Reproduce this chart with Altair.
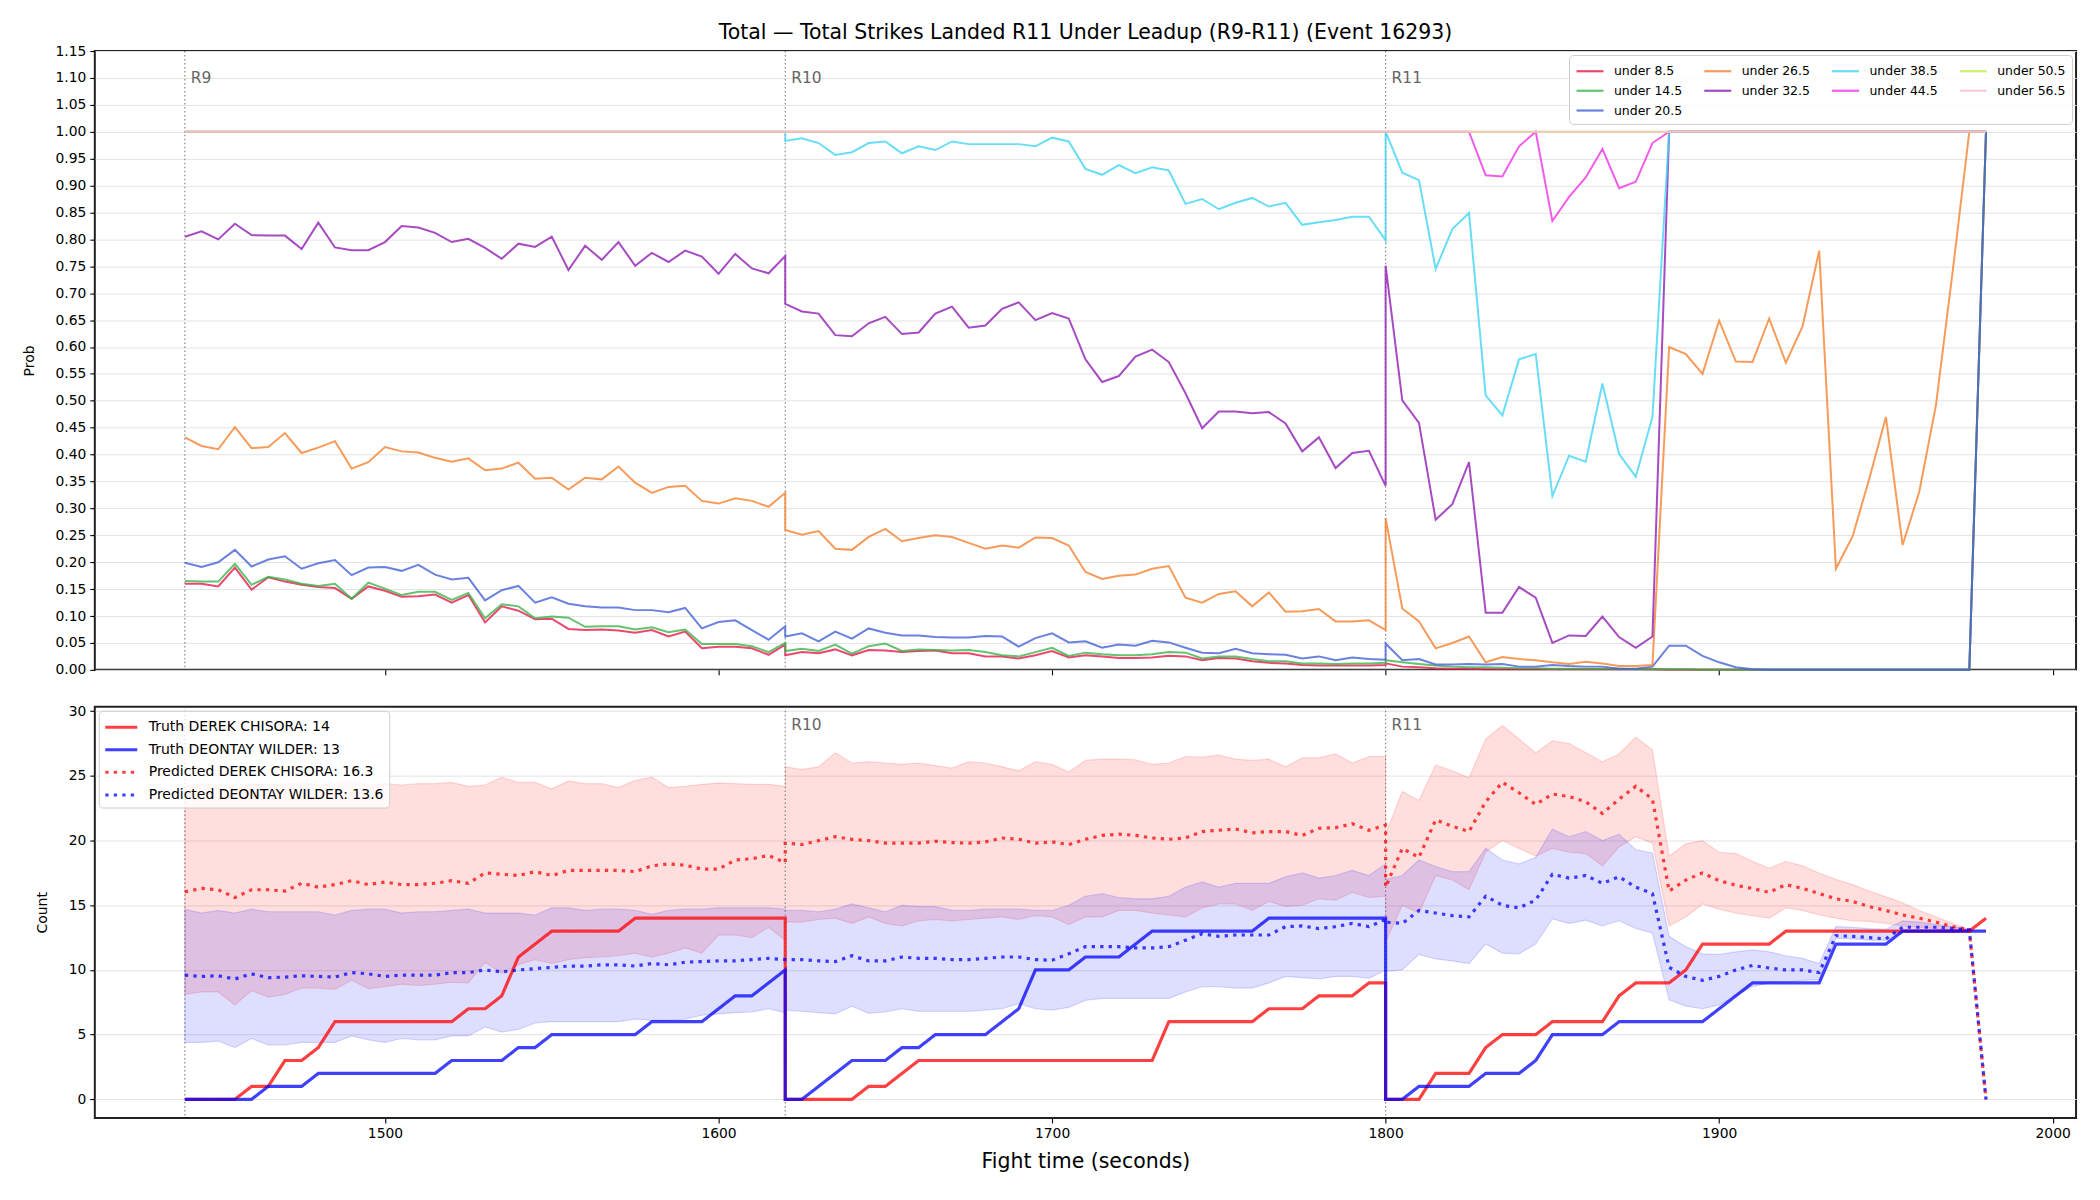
import altair as alt
import pandas as pd

# ---------------------------------------------------------------- time grid
ROUND_STARTS = [1440, 1620, 1800]
ROUND_NAMES = ["R9", "R10", "R11"]
STEP = 5
PER_ROUND = 37
TIMES = [s + STEP * i for s in ROUND_STARTS for i in range(PER_ROUND)]

# ---------------------------------------------------------------- top panel: P(total strikes < line)
THRESHOLDS = ["under 8.5", "under 14.5", "under 20.5", "under 26.5", "under 32.5",
              "under 38.5", "under 44.5", "under 50.5", "under 56.5"]
LINE_COLORS = ["#e6194B", "#3cb44b", "#4363d8", "#f58231", "#911eb4",
               "#42d4f4", "#f032e6", "#bfef45", "#fabed4"]

UNDER_8_5 = [
    0.160, 0.160, 0.155, 0.190, 0.149, 0.172, 0.164, 0.158, 0.154, 0.152,
    0.132, 0.155, 0.147, 0.136, 0.137, 0.140, 0.125, 0.139, 0.088, 0.118,
    0.110, 0.094, 0.095, 0.076, 0.074, 0.075, 0.073, 0.069, 0.074, 0.062,
    0.071, 0.040, 0.043, 0.043, 0.040, 0.028, 0.047,
    0.027, 0.033, 0.031, 0.038, 0.027, 0.037, 0.036, 0.033, 0.035, 0.036,
    0.031, 0.031, 0.025, 0.025, 0.021, 0.027, 0.035, 0.023, 0.027, 0.025,
    0.022, 0.022, 0.023, 0.026, 0.025, 0.018, 0.022, 0.021, 0.016, 0.013,
    0.012, 0.009, 0.008, 0.008, 0.008, 0.008, 0.009,
    0.012, 0.006, 0.005, 0.003, 0.002, 0.002, 0.001, 0.001, 0.001, 0.001,
    0.001, 0.001, 0.001, 0.001, 0.001, 0.001, 0.001, 0.0, 0.0, 0.0,
    0.0, 0.0, 0.0, 0.0, 0.0, 0.0, 0.0, 0.0, 0.0, 0.0,
    0.0, 0.0, 0.0, 0.0, 0.0, 0.0, 1.0,
]
UNDER_14_5 = [
    0.165, 0.164, 0.164, 0.197, 0.158, 0.173, 0.168, 0.160, 0.156, 0.160,
    0.132, 0.162, 0.151, 0.139, 0.145, 0.145, 0.130, 0.143, 0.096, 0.122,
    0.118, 0.096, 0.099, 0.097, 0.080, 0.081, 0.081, 0.075, 0.079, 0.070,
    0.075, 0.048, 0.048, 0.048, 0.044, 0.033, 0.050,
    0.035, 0.039, 0.035, 0.047, 0.030, 0.044, 0.049, 0.035, 0.038, 0.037,
    0.036, 0.037, 0.033, 0.027, 0.025, 0.033, 0.041, 0.026, 0.032, 0.029,
    0.027, 0.027, 0.029, 0.033, 0.032, 0.021, 0.025, 0.025, 0.020, 0.016,
    0.016, 0.012, 0.012, 0.011, 0.012, 0.012, 0.013,
    0.018, 0.014, 0.011, 0.008, 0.006, 0.005, 0.005, 0.004, 0.003, 0.003,
    0.002, 0.002, 0.002, 0.002, 0.002, 0.001, 0.001, 0.001, 0.001, 0.0,
    0.0, 0.0, 0.0, 0.0, 0.0, 0.0, 0.0, 0.0, 0.0, 0.0,
    0.0, 0.0, 0.0, 0.0, 0.0, 0.0, 1.0,
]
UNDER_20_5 = [
    0.199, 0.191, 0.200, 0.223, 0.192, 0.205, 0.211, 0.188, 0.198, 0.204,
    0.176, 0.190, 0.191, 0.184, 0.195, 0.177, 0.168, 0.171, 0.129, 0.148,
    0.156, 0.125, 0.135, 0.123, 0.118, 0.116, 0.116, 0.111, 0.111, 0.107,
    0.115, 0.077, 0.089, 0.092, 0.074, 0.056, 0.081,
    0.062, 0.068, 0.053, 0.071, 0.058, 0.077, 0.069, 0.064, 0.064, 0.061,
    0.060, 0.060, 0.063, 0.062, 0.043, 0.059, 0.068, 0.051, 0.053, 0.041,
    0.047, 0.045, 0.054, 0.051, 0.041, 0.032, 0.031, 0.039, 0.031, 0.029,
    0.028, 0.021, 0.025, 0.018, 0.023, 0.020, 0.019,
    0.049, 0.018, 0.020, 0.010, 0.010, 0.011, 0.010, 0.011, 0.006, 0.006,
    0.009, 0.007, 0.006, 0.006, 0.002, 0.002, 0.006, 0.045, 0.045, 0.026,
    0.014, 0.005, 0.001, 0.0, 0.0, 0.0, 0.0, 0.0, 0.0, 0.0,
    0.0, 0.0, 0.0, 0.0, 0.0, 0.0, 1.0,
]
UNDER_26_5 = [
    0.432, 0.416, 0.410, 0.451, 0.412, 0.414, 0.440, 0.403, 0.413, 0.425,
    0.374, 0.386, 0.414, 0.406, 0.404, 0.394, 0.387, 0.393, 0.371, 0.374,
    0.385, 0.355, 0.357, 0.335, 0.357, 0.354, 0.378, 0.348, 0.329, 0.340,
    0.342, 0.314, 0.309, 0.319, 0.314, 0.303, 0.329,
    0.260, 0.251, 0.258, 0.225, 0.223, 0.247, 0.262, 0.239, 0.245, 0.250,
    0.247, 0.236, 0.225, 0.231, 0.227, 0.246, 0.245, 0.231, 0.182, 0.169,
    0.175, 0.177, 0.188, 0.193, 0.134, 0.125, 0.141, 0.146, 0.118, 0.144,
    0.108, 0.109, 0.113, 0.090, 0.090, 0.092, 0.074,
    0.282, 0.114, 0.090, 0.040, 0.050, 0.062, 0.014, 0.024, 0.020, 0.018,
    0.014, 0.011, 0.015, 0.012, 0.007, 0.007, 0.009, 0.600, 0.587, 0.550,
    0.649, 0.573, 0.572, 0.653, 0.571, 0.638, 0.779, 0.188, 0.248, 0.355,
    0.470, 0.232, 0.331, 0.492, 0.740, 1.0, 1.0,
]
UNDER_32_5 = [
    0.805, 0.815, 0.800, 0.829, 0.808, 0.807, 0.807, 0.782, 0.831, 0.785,
    0.780, 0.780, 0.795, 0.825, 0.822, 0.812, 0.795, 0.801, 0.784, 0.764,
    0.792, 0.786, 0.805, 0.743, 0.788, 0.762, 0.795, 0.751, 0.775, 0.758,
    0.779, 0.768, 0.736, 0.773, 0.746, 0.737, 0.769,
    0.680, 0.666, 0.662, 0.622, 0.620, 0.644, 0.656, 0.624, 0.627, 0.662,
    0.675, 0.636, 0.640, 0.671, 0.683, 0.650, 0.663, 0.653, 0.577, 0.535,
    0.546, 0.582, 0.595, 0.572, 0.514, 0.449, 0.480, 0.480, 0.477, 0.479,
    0.458, 0.406, 0.432, 0.375, 0.403, 0.407, 0.342,
    0.751, 0.501, 0.459, 0.279, 0.308, 0.386, 0.106, 0.106, 0.154, 0.134,
    0.050, 0.064, 0.063, 0.099, 0.061, 0.041, 0.062, 1.0, 1.0, 1.0,
    1.0, 1.0, 1.0, 1.0, 1.0, 1.0, 1.0, 1.0, 1.0, 1.0,
    1.0, 1.0, 1.0, 1.0, 1.0, 1.0, 1.0,
]
UNDER_38_5 = [1.0] * PER_ROUND + [
    0.983, 0.988, 0.979, 0.957, 0.962, 0.979, 0.982, 0.960, 0.973, 0.966,
    0.982, 0.977, 0.977, 0.977, 0.977, 0.973, 0.989, 0.982, 0.931, 0.920,
    0.938, 0.923, 0.934, 0.928, 0.866, 0.875, 0.856, 0.868, 0.877, 0.861,
    0.868, 0.827, 0.832, 0.836, 0.842, 0.842, 0.798,
    1.0, 0.924, 0.910, 0.745, 0.819, 0.849, 0.510, 0.473, 0.577, 0.587,
    0.323, 0.398, 0.387, 0.532, 0.401, 0.359, 0.470, 1.0, 1.0, 1.0,
    1.0, 1.0, 1.0, 1.0, 1.0, 1.0, 1.0, 1.0, 1.0, 1.0,
    1.0, 1.0, 1.0, 1.0, 1.0, 1.0, 1.0,
]
UNDER_44_5 = [1.0] * (2 * PER_ROUND) + [
    1.0, 1.0, 1.0, 1.0, 1.0, 1.0, 0.919, 0.917, 0.973, 1.0,
    0.834, 0.879, 0.915, 0.968, 0.895, 0.907, 0.979, 1.0, 1.0, 1.0,
    1.0, 1.0, 1.0, 1.0, 1.0, 1.0, 1.0, 1.0, 1.0, 1.0,
    1.0, 1.0, 1.0, 1.0, 1.0, 1.0, 1.0,
]
UNDER_50_5 = [1.0] * (3 * PER_ROUND)
UNDER_56_5 = [1.0] * (3 * PER_ROUND)

PROB_SERIES = [UNDER_8_5, UNDER_14_5, UNDER_20_5, UNDER_26_5, UNDER_32_5,
               UNDER_38_5, UNDER_44_5, UNDER_50_5, UNDER_56_5]

# ---------------------------------------------------------------- bottom panel: counts
TRUTH_CHISORA = [
    0, 0, 0, 0, 1, 1, 3, 3, 4, 6, 6, 6, 6, 6, 6, 6, 6, 7, 7, 8,
    11, 12, 13, 13, 13, 13, 13, 14, 14, 14, 14, 14, 14, 14, 14, 14, 14,
    0, 0, 0, 0, 0, 1, 1, 2, 3, 3, 3, 3, 3, 3, 3, 3, 3, 3, 3, 3,
    3, 3, 3, 6, 6, 6, 6, 6, 6, 7, 7, 7, 8, 8, 8, 9, 9,
    0, 0, 0, 2, 2, 2, 4, 5, 5, 5, 6, 6, 6, 6, 8, 9, 9, 9, 10, 12,
    12, 12, 12, 12, 13, 13, 13, 13, 13, 13, 13, 13, 13, 13, 13, 13, 14,
]
TRUTH_WILDER = [
    0, 0, 0, 0, 0, 1, 1, 1, 2, 2, 2, 2, 2, 2, 2, 2, 3, 3, 3, 3,
    4, 4, 5, 5, 5, 5, 5, 5, 6, 6, 6, 6, 7, 8, 8, 9, 10,
    0, 0, 1, 2, 3, 3, 3, 4, 4, 5, 5, 5, 5, 6, 7, 10, 10, 10, 11, 11,
    11, 12, 13, 13, 13, 13, 13, 13, 13, 14, 14, 14, 14, 14, 14, 14, 14,
    0, 0, 1, 1, 1, 1, 2, 2, 2, 3, 5, 5, 5, 5, 6, 6, 6, 6, 6, 6,
    7, 8, 9, 9, 9, 9, 9, 12, 12, 12, 12, 13, 13, 13, 13, 13, 13,
]
PRED_CHISORA = [
    16.05, 16.3, 16.2, 15.6, 16.2, 16.2, 16.1, 16.7, 16.4, 16.6,
    16.9, 16.6, 16.8, 16.6, 16.6, 16.7, 16.9, 16.7, 17.5, 17.4,
    17.3, 17.6, 17.3, 17.7, 17.7, 17.7, 17.7, 17.6, 18.05, 18.2,
    18.1, 17.8, 17.8, 18.5, 18.6, 18.85, 18.3,
    19.8, 19.7, 20.0, 20.3, 20.1, 20.0, 19.8, 19.8, 19.8, 19.95,
    19.85, 19.8, 19.9, 20.2, 20.1, 19.8, 19.9, 19.7, 20.1, 20.4,
    20.5, 20.4, 20.2, 20.1, 20.2, 20.7, 20.8, 20.9, 20.6, 20.7,
    20.7, 20.4, 20.95, 21.0, 21.3, 20.8, 21.2,
    16.4, 19.4, 18.7, 21.6, 21.1, 20.7, 23.0, 24.5, 23.7, 22.8,
    23.6, 23.4, 23.0, 22.1, 23.2, 24.2, 23.2, 16.1, 16.95, 17.5,
    16.9, 16.55, 16.3, 16.0, 16.6, 16.3, 15.9, 15.5, 15.3, 14.9,
    14.6, 14.25, 14.0, 13.7, 13.35, 13.1, 0.0,
]
PRED_WILDER = [
    9.6, 9.5, 9.55, 9.3, 9.7, 9.4, 9.45, 9.55, 9.5, 9.45,
    9.8, 9.7, 9.5, 9.6, 9.6, 9.6, 9.8, 9.8, 10.0, 9.85,
    10.0, 10.1, 10.2, 10.3, 10.3, 10.4, 10.4, 10.3, 10.5, 10.4,
    10.6, 10.65, 10.7, 10.7, 10.8, 10.9, 10.8,
    10.8, 10.8, 10.7, 10.65, 11.1, 10.7, 10.7, 11.0, 10.9, 10.9,
    10.8, 10.8, 10.9, 11.0, 11.0, 10.8, 10.75, 11.25, 11.8, 11.8,
    11.8, 11.7, 11.7, 11.8, 12.3, 12.8, 12.6, 12.7, 12.7, 12.7,
    13.35, 13.4, 13.2, 13.35, 13.6, 13.35, 13.9,
    13.7, 13.6, 14.6, 14.4, 14.2, 14.1, 15.7, 15.0, 14.8, 15.4,
    17.4, 17.1, 17.3, 16.7, 17.2, 16.4, 15.9, 10.2, 9.5, 9.2,
    9.5, 10.0, 10.35, 10.15, 10.0, 10.0, 9.8, 12.65, 12.6, 12.5,
    12.4, 13.3, 13.3, 13.3, 13.2, 13.1, 0.0,
]
# prediction intervals (the last R11 step has none)
CHISORA_HI = [
    24.2, 24.4, 24.3, 24.0, 24.4, 24.3, 24.4, 24.5, 24.3, 24.4,
    24.6, 24.3, 24.4, 24.3, 24.4, 24.4, 24.5, 24.2, 24.3, 24.9,
    24.5, 24.5, 24.0, 24.6, 24.4, 24.4, 24.1, 24.65, 24.9, 24.1,
    24.2, 24.35, 24.45, 24.4, 24.35, 24.35, 24.2,
    25.7, 25.5, 25.7, 26.8, 26.0, 26.1, 26.0, 25.9, 26.0, 25.8,
    25.6, 26.1, 26.0, 25.7, 25.4, 26.1, 25.9, 25.3, 26.2, 26.3,
    26.3, 26.25, 25.9, 26.0, 26.5, 26.45, 26.6, 26.3, 26.2, 26.3,
    25.7, 26.4, 26.4, 26.7, 26.0, 26.5, 26.5,
    20.5, 23.8, 23.1, 25.85, 25.4, 24.85, 27.85, 28.9, 27.85, 26.8,
    27.7, 27.5, 26.8, 26.1, 26.7, 28.0, 27.0, 18.8, 19.75, 20.0,
    19.1, 19.0, 18.4, 17.85, 18.4, 18.05, 17.5, 17.0, 16.6, 16.1,
    15.65, 15.2, 14.6, 14.1, 13.6, 13.1,
]
CHISORA_LO = [
    8.1, 8.3, 8.3, 7.3, 8.4, 7.9, 8.1, 8.6, 8.6, 8.5,
    9.2, 8.55, 8.7, 8.9, 8.8, 8.9, 9.05, 9.0, 10.6, 9.75,
    10.4, 10.8, 10.5, 10.8, 10.95, 11.0, 11.1, 11.3, 11.0, 11.3,
    11.7, 11.3, 12.7, 12.7, 12.5, 13.3, 12.3,
    13.7, 13.7, 13.9, 14.0, 13.6, 14.1, 13.6, 13.4, 13.8, 13.9,
    13.8, 13.9, 14.0, 14.1, 13.9, 14.2, 14.1, 13.5, 14.1, 14.1,
    14.6, 14.6, 14.4, 14.25, 14.1, 14.8, 15.1, 15.1, 14.6, 15.3,
    14.9, 15.0, 15.5, 15.4, 16.0, 15.6, 15.7,
    12.2, 15.0, 14.4, 17.3, 16.95, 16.2, 19.1, 20.0, 19.4, 18.8,
    19.4, 19.1, 19.0, 18.05, 19.5, 20.3, 19.8, 13.4, 14.1, 15.1,
    14.7, 14.4, 14.2, 14.0, 14.8, 14.6, 14.25, 14.0, 13.8, 13.75,
    13.6, 13.4, 13.3, 13.2, 12.9, 13.1,
]
WILDER_HI = [
    14.7, 14.4, 14.6, 14.4, 14.7, 14.5, 14.5, 14.5, 14.5, 14.25,
    14.6, 14.7, 14.7, 14.4, 14.5, 14.5, 14.6, 14.7, 14.4, 14.4,
    14.4, 14.25, 14.8, 14.8, 14.6, 14.7, 14.7, 14.6, 14.3, 14.6,
    14.7, 14.7, 14.8, 14.8, 14.8, 14.8, 14.7,
    14.6, 14.6, 14.5, 14.7, 15.1, 14.8, 14.5, 15.0, 14.9, 14.9,
    14.6, 14.6, 14.7, 14.7, 14.7, 14.6, 14.6, 15.0, 15.7, 15.9,
    15.6, 15.5, 15.5, 15.7, 16.4, 16.8, 16.4, 16.7, 16.7, 16.7,
    17.2, 17.5, 17.1, 17.3, 17.7, 17.3, 18.2,
    17.0, 17.3, 18.5, 18.0, 17.6, 17.6, 19.4, 18.5, 18.2, 18.7,
    20.9, 20.3, 20.7, 20.0, 20.5, 19.3, 19.05, 12.6, 11.8, 11.25,
    11.2, 11.4, 11.55, 11.4, 11.1, 10.9, 10.5, 13.35, 13.3, 13.2,
    13.15, 13.8, 13.7, 13.5, 13.35, 13.1,
]
WILDER_LO = [
    4.4, 4.4, 4.5, 4.0, 4.7, 4.2, 4.2, 4.4, 4.4, 4.4,
    4.9, 4.6, 4.4, 4.7, 4.6, 4.6, 4.9, 4.9, 5.6, 5.2,
    5.4, 5.9, 6.0, 6.0, 6.0, 6.0, 6.0, 6.2, 6.1, 6.1,
    6.2, 6.5, 6.6, 6.7, 6.75, 7.0, 6.7,
    6.9, 6.8, 6.7, 6.6, 7.2, 6.65, 6.75, 7.0, 6.8, 6.8,
    6.8, 6.8, 6.9, 7.0, 7.4, 7.0, 6.9, 7.1, 7.65, 7.8,
    7.8, 7.8, 7.8, 7.8, 8.3, 8.7, 8.7, 8.6, 8.6, 9.0,
    9.5, 9.4, 9.3, 9.5, 9.5, 9.35, 10.0,
    9.9, 10.0, 11.2, 10.85, 10.7, 10.5, 12.0, 11.3, 11.25, 12.0,
    13.95, 13.6, 13.85, 13.4, 13.8, 13.2, 12.85, 7.7, 7.2, 7.0,
    7.3, 8.0, 8.7, 9.0, 9.05, 9.2, 9.25, 12.45, 12.4, 12.3,
    12.3, 12.9, 12.9, 12.9, 12.9, 13.05,
]

KEY_TRUTH_C = f"Truth DEREK CHISORA: {TRUTH_CHISORA[-1]}"
KEY_TRUTH_W = f"Truth DEONTAY WILDER: {TRUTH_WILDER[-1]}"
KEY_PRED_C = "Predicted DEREK CHISORA: 16.3"
KEY_PRED_W = "Predicted DEONTAY WILDER: 13.6"

# ---------------------------------------------------------------- tables
top_rows = []
for name, vals in zip(THRESHOLDS, PROB_SERIES):
    for i, (t, p) in enumerate(zip(TIMES, vals)):
        top_rows.append({"t": t, "p": p, "series": name, "ord": i})
top_df = pd.DataFrame(top_rows)

count_rows = []
for key, vals in [(KEY_TRUTH_C, TRUTH_CHISORA), (KEY_TRUTH_W, TRUTH_WILDER),
                  (KEY_PRED_C, PRED_CHISORA), (KEY_PRED_W, PRED_WILDER)]:
    for i, (t, v) in enumerate(zip(TIMES, vals)):
        count_rows.append({"t": t, "v": v, "key": key, "ord": i})
count_df = pd.DataFrame(count_rows)

band_rows = []
for who, lo, hi in [("chisora", CHISORA_LO, CHISORA_HI), ("wilder", WILDER_LO, WILDER_HI)]:
    for i, (t, a, b) in enumerate(zip(TIMES, lo, hi)):
        band_rows.append({"t": t, "lo": a, "hi": b, "who": who})
band_df = pd.DataFrame(band_rows)

rounds_df = pd.DataFrame({"t": ROUND_STARTS, "name": ROUND_NAMES})

# ---------------------------------------------------------------- shared scales / axes
FONT = "DejaVu Sans"
PLOT_W = 1985
X_TICKS = [1500, 1600, 1700, 1800, 1900, 2000]
x_scale = alt.Scale(domain=[1413, 2007], nice=False, zero=False)

top_x_axis = alt.Axis(values=X_TICKS, labels=False, title=None, grid=False, ticks=True)
bottom_x_axis = alt.Axis(values=X_TICKS, format="d", title="Fight time (seconds)",
                         grid=False, titleFontSize=20.5, titlePadding=11,
                         titleFontWeight="normal")

prob_ticks = [round(i * 0.05, 2) for i in range(24)]
top_y_scale = alt.Scale(domain=[0, 1.15], nice=False, zero=False)
top_y_axis = alt.Axis(values=prob_ticks, format=".2f", title="Prob", labelOverlap=False)

bottom_y_scale = alt.Scale(domain=[-1.445, 30.345], nice=False, zero=False)
bottom_y_axis = alt.Axis(values=[0, 5, 10, 15, 20, 25, 30], title="Count")

# a short horizontal stroke, longer than the symbol box on its right side
LEGEND_LINE = "M-1,0L2.2,0"

# Vega lays the nine entries out three-deep before wrapping them into four
# columns, so this domain order yields rows: 8.5 26.5 38.5 50.5 / 14.5 32.5 44.5 56.5 / 20.5
legend_idx = [0, 7, 6, 3, 1, 8, 5, 4, 2]
prob_color = alt.Color(
    "series:N",
    scale=alt.Scale(domain=[THRESHOLDS[i] for i in legend_idx],
                    range=[LINE_COLORS[i] for i in legend_idx]),
    legend=alt.Legend(title=None, orient="top-right", offset=4, columns=4,
                      columnPadding=17, rowPadding=2.8, symbolType=LEGEND_LINE,
                      symbolSize=285, symbolStrokeWidth=2.2, symbolOpacity=0.8,
                      labelFontSize=12.5, labelFont=FONT, labelOffset=19,
                      labelLimit=300, padding=6,
                      fillColor="rgba(255,255,255,0.8)",
                      strokeColor="#cccccc", cornerRadius=4),
)

# ---------------------------------------------------------------- top panel
def prob_layer(name):
    return (
        alt.Chart(top_df)
        .transform_filter(alt.datum.series == name)
        .mark_line(strokeWidth=2, opacity=0.8)
        .encode(
            x=alt.X("t:Q", scale=x_scale, axis=top_x_axis),
            y=alt.Y("p:Q", scale=top_y_scale, axis=top_y_axis),
            color=prob_color,
            order=alt.Order("ord:Q"),
        )
    )

round_rules_top = alt.Chart(rounds_df).mark_rule(
    color="#666666", strokeDash=[1.5, 2.5], strokeWidth=1.1, opacity=0.85
).encode(x=alt.X("t:Q", scale=x_scale))

round_text_top = alt.Chart(rounds_df).mark_text(
    align="left", baseline="middle", dx=6, fontSize=15.5, color="#666666", font=FONT
).encode(
    x=alt.X("t:Q", scale=x_scale),
    y=alt.YDatum(1.10, scale=top_y_scale, axis=top_y_axis),
    text="name:N",
)

top = alt.layer(
    round_rules_top, *[prob_layer(n) for n in THRESHOLDS], round_text_top
).properties(
    width=PLOT_W, height=620,
    title=alt.TitleParams(
        text="Total \u2014 Total Strikes Landed R11 Under Leadup (R9-R11) (Event 16293)",
        fontSize=20.5, font=FONT, fontWeight="normal", anchor="middle",
        frame="group", offset=1, color="#000000",
    ),
)

# ---------------------------------------------------------------- bottom panel
def band_layer(who, colour):
    return (
        alt.Chart(band_df)
        .transform_filter(alt.datum.who == who)
        .mark_area(fill=colour, fillOpacity=0.13, stroke=colour,
                   strokeOpacity=0.14, strokeWidth=1.2)
        .encode(
            x=alt.X("t:Q", scale=x_scale, axis=bottom_x_axis),
            y=alt.Y("lo:Q", scale=bottom_y_scale, axis=bottom_y_axis),
            y2="hi:Q",
        )
    )

KEYS = [KEY_TRUTH_C, KEY_TRUTH_W, KEY_PRED_C, KEY_PRED_W]
count_legend = alt.Legend(title=None, orient="top-left", offset=4,
                          symbolType=LEGEND_LINE, symbolSize=400, symbolStrokeWidth=3,
                          labelFontSize=14, labelFont=FONT, labelOffset=22,
                          labelLimit=400, rowPadding=3.6, padding=5,
                          fillColor="rgba(255,255,255,0.8)",
                          strokeColor="#cccccc", cornerRadius=4)

count_lines = alt.Chart(count_df).mark_line(strokeWidth=3.2, strokeCap="butt").encode(
    x=alt.X("t:Q", scale=x_scale, axis=bottom_x_axis),
    y=alt.Y("v:Q", scale=bottom_y_scale, axis=bottom_y_axis),
    color=alt.Color("key:N", scale=alt.Scale(domain=KEYS,
                    range=["#ff0000", "#0000ff", "#ff0000", "#0000ff"]),
                    legend=count_legend),
    strokeDash=alt.StrokeDash("key:N", scale=alt.Scale(domain=KEYS,
                              range=[[1, 0], [1, 0], [3.3, 5.2], [3.3, 5.2]]),
                              legend=count_legend),
    opacity=alt.Opacity("key:N", scale=alt.Scale(domain=KEYS,
                        range=[0.75, 0.75, 0.6, 0.6]),
                        legend=count_legend),
    order=alt.Order("ord:Q"),
)

round_rules_bottom = alt.Chart(rounds_df).mark_rule(
    color="#666666", strokeDash=[1.5, 2.5], strokeWidth=1.1, opacity=0.85
).encode(x=alt.X("t:Q", scale=x_scale))

round_text_bottom = alt.Chart(rounds_df).transform_filter(
    alt.datum.name != "R9"
).mark_text(
    align="left", baseline="middle", dx=6, fontSize=15.5, color="#666666", font=FONT
).encode(
    x=alt.X("t:Q", scale=x_scale),
    y=alt.YDatum(28.9, scale=bottom_y_scale, axis=bottom_y_axis),
    text="name:N",
)

bottom = alt.layer(
    band_layer("chisora", "#ff0000"), band_layer("wilder", "#0000ff"),
    round_rules_bottom, count_lines, round_text_bottom,
).properties(width=PLOT_W, height=412)

# ---------------------------------------------------------------- assemble
chart = (
    alt.vconcat(top, bottom, spacing=25)
    .resolve_scale(color="independent", strokeDash="independent",
                   opacity="independent")
    .resolve_legend(color="independent", strokeDash="independent",
                    opacity="independent")
    .properties(padding={"left": 21, "top": 20, "right": 23, "bottom": 10},
                background="white")
    .configure(font=FONT)
    .configure_view(stroke="#222222", strokeWidth=2)
    .configure_axis(
        labelFont=FONT, titleFont=FONT, labelFontSize=13.9, titleFontSize=14,
        titleFontWeight="normal", labelColor="#000000", titleColor="#000000",
        tickColor="#000000", tickSize=5, tickWidth=1.1, labelPadding=4,
        domain=False, gridColor="#e3e3e3", gridWidth=1, titlePadding=19,
    )
    .configure_axisY(labelOverlap=False)
)

chart.save("out.html", embed_options={"renderer": "svg", "actions": False})
